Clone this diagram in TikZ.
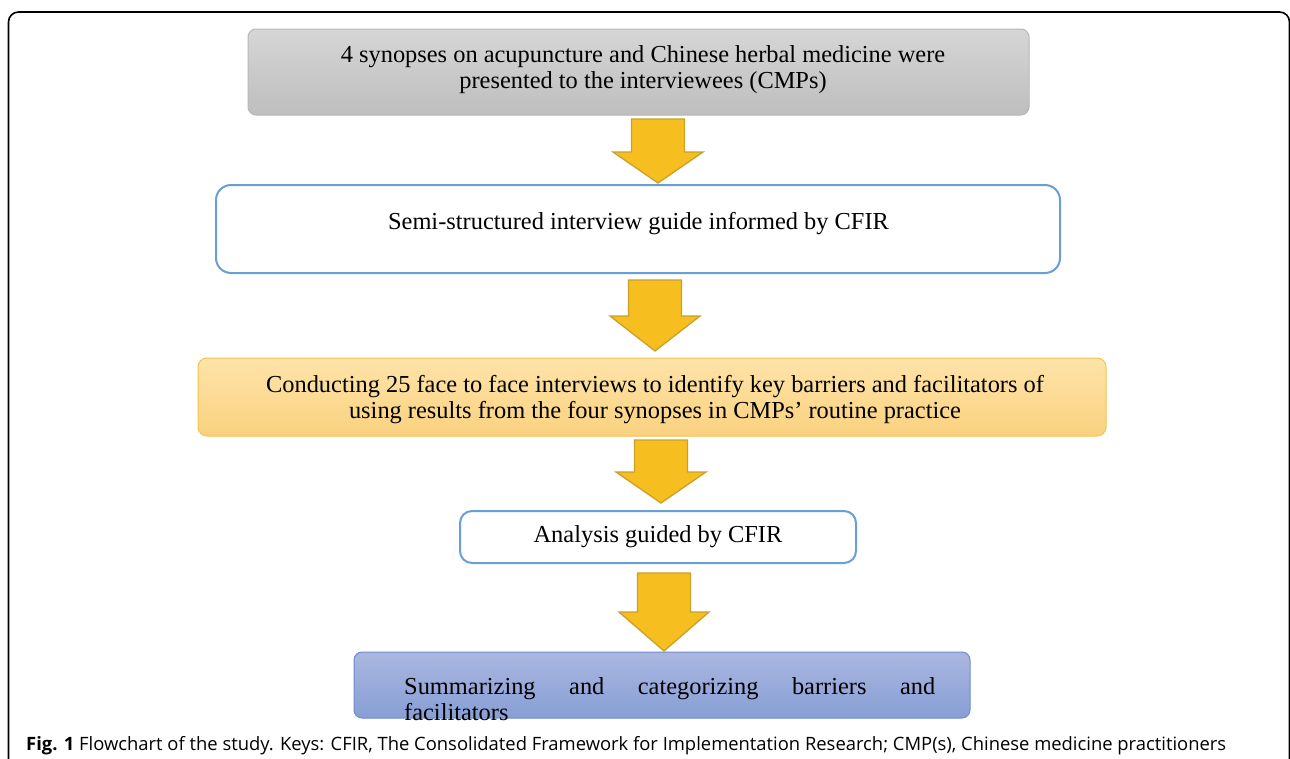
\documentclass[tikz,border=0pt]{standalone}
\usepackage{fontspec}
\setmainfont{Liberation Serif}
\newfontfamily\capfont{Open Sans}
\usetikzlibrary{calc}
\definecolor{arrfill}{HTML}{F7BE1F}
\definecolor{arrdraw}{HTML}{C9A02A}
\definecolor{blueline}{HTML}{6A9FD6}
\definecolor{grayT}{HTML}{D6D6D6}
\definecolor{grayB}{HTML}{BEBEBE}
\definecolor{grayD}{HTML}{B8B8B8}
\definecolor{orT}{HTML}{FEE3A8}
\definecolor{orB}{HTML}{FAD280}
\definecolor{orD}{HTML}{F3C447}
\definecolor{blT}{HTML}{AAB7E0}
\definecolor{blB}{HTML}{889ED5}
\definecolor{blD}{HTML}{6F8CCB}
\tikzset{
  boxbase/.style={inner sep=0pt, outer sep=0pt},
  graybox/.style={boxbase, draw=grayD, line width=1pt, rounded corners=8pt, top color=grayT, bottom color=grayB},
  whitebox/.style={boxbase, draw=blueline, line width=2pt, fill=white},
  orangebox/.style={boxbase, draw=orD, line width=1pt, rounded corners=9pt, top color=orT, bottom color=orB},
  bluebox/.style={boxbase, draw=blD, line width=1pt, rounded corners=8pt, top color=blT, bottom color=blB},
  boxtext/.style={inner sep=0pt, align=center, font=\fontsize{24.4}{26}\selectfont},
  blockarrow/.style={fill=arrfill, draw=arrdraw, line width=1.3pt, line join=miter},
  framestyle/.style={draw=black, line width=1.6pt, rounded corners=10pt}
}
\newcommand\blockarr[3]{%
  \draw[blockarrow] let \p1=(#1), \p2=(#2) in
    (\x1-26.5pt,\y1) -- (\x1+26.5pt,\y1) -- (\x1+26.5pt,\y2+#3) -- (\x1+45pt,\y2+#3)
    -- (\x2,\y2) -- (\x1-45pt,\y2+#3) -- (\x1-26.5pt,\y2+#3) -- cycle;}
\begin{document}
\begin{tikzpicture}[x=1pt,y=-1pt]
\useasboundingbox (0,0) rectangle (1290,758);
\fill[white] (0,0) rectangle (1290,758);
% frame
\draw[framestyle] (8.5,770) -- (8.5,12) -- (1289.5,12) -- (1289.5,770);
% boxes
\node[graybox, minimum width=781pt, minimum height=86pt] (b1) at (638.5,72) {};
\node[whitebox, rounded corners=15pt, minimum width=844pt, minimum height=88pt] (b2) at (638,229) {};
\node[orangebox, minimum width=908pt, minimum height=78pt] (b3) at (652,397) {};
\node[whitebox, rounded corners=12pt, minimum width=396pt, minimum height=52pt] (b4) at (658,537) {};
\node[bluebox, minimum width=616pt, minimum height=66pt] (b5) at (662,685) {};
% texts
\node[boxtext] (t1) at (643,70) {4 synopses on acupuncture and Chinese herbal medicine were\\presented to the interviewees (CMPs)};
\node[boxtext] (t2) at (638.5,224) {Semi-structured interview guide informed by CFIR};
\node[boxtext] (t3) at (655,400) {Conducting 25 face to face interviews to identify key barriers and facilitators of\\using results from the four synopses in CMPs’ routine practice};
\node[boxtext] (t4) at (658,537) {Analysis guided by CFIR};
\node[boxtext, align=left, anchor=north west] (t5) at (404,677) {\makebox[531pt][s]{Summarizing and categorizing barriers and}\\facilitators};
% arrows
\coordinate (a1s) at (658,119); \coordinate (a1e) at (658,183);
\coordinate (a2s) at (655,280); \coordinate (a2e) at (655,351);
\coordinate (a3s) at (661,440); \coordinate (a3e) at (661,503);
\coordinate (a4s) at (664,573); \coordinate (a4e) at (664,651);
\blockarr{a1s}{a1e}{31pt}
\blockarr{a2s}{a2e}{35pt}
\blockarr{a3s}{a3e}{31pt}
\blockarr{a4s}{a4e}{39pt}
% caption
\node[inner sep=0pt, anchor=base west, font=\capfont\fontsize{18.4}{21}\selectfont] (cap) at (26,750) {\textbf{Fig. 1} Flowchart of the study. Keys: CFIR, The Consolidated Framework for Implementation Research; CMP(s), Chinese medicine practitioners};
\end{tikzpicture}
\end{document}
